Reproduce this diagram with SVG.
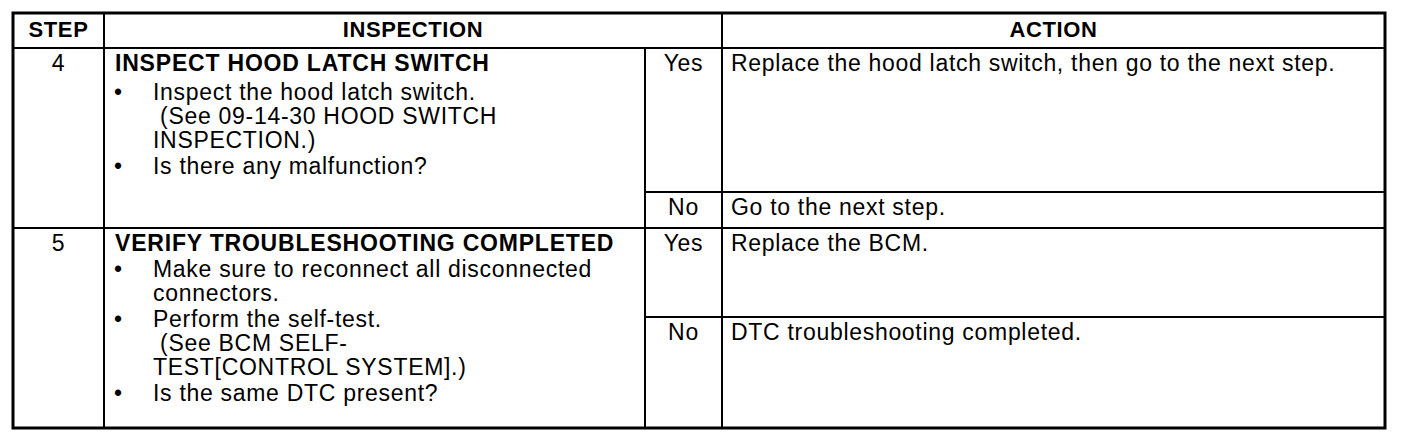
<svg xmlns="http://www.w3.org/2000/svg" width="1408" height="444" viewBox="0 0 1408 444">
<style>
text{font-family:"Liberation Sans",Arial,sans-serif;font-size:23px;letter-spacing:0.7px;fill:#000}
.h{font-weight:bold;font-size:22px;letter-spacing:0.6px;text-anchor:middle}
.b{font-weight:bold;letter-spacing:0.8px}
.c{text-anchor:middle}
.ln{stroke:#000;stroke-width:2;fill:none}
.out{stroke:#000;stroke-width:3;fill:none}
</style>
<rect width="1408" height="444" fill="#fff"/>
<g id="connectors">
<rect class="out" x="13" y="13" width="1372" height="415"/>
<line class="ln" x1="13" y1="48" x2="1385" y2="48"/>
<line class="ln" x1="13" y1="228" x2="1385" y2="228"/>
<line class="ln" x1="645" y1="192" x2="1385" y2="192"/>
<line class="ln" x1="645" y1="317" x2="1385" y2="317"/>
<line class="ln" x1="104" y1="13" x2="104" y2="428"/>
<line class="ln" x1="645" y1="48" x2="645" y2="428"/>
<line class="ln" x1="722" y1="13" x2="722" y2="428"/>
</g>
<g id="header">
<text class="h" x="58.5" y="37">STEP</text>
<text class="h" x="413" y="37">INSPECTION</text>
<text class="h" x="1053.5" y="37">ACTION</text>
</g>
<g id="step4">
<text class="c" x="58.5" y="71">4</text>
<text class="b" x="115" y="71">INSPECT HOOD LATCH SWITCH</text>
<text x="114" y="100">•</text>
<text x="153" y="100">Inspect the hood latch switch.</text>
<text x="153" y="124" xml:space="preserve"> (See 09-14-30 HOOD SWITCH</text>
<text x="153" y="148">INSPECTION.)</text>
<text x="114" y="174">•</text>
<text x="153" y="174">Is there any malfunction?</text>
<text class="c" x="683.5" y="71">Yes</text>
<text x="731" y="71">Replace the hood latch switch, then go to the next step.</text>
<text class="c" x="683.5" y="215">No</text>
<text x="731" y="215">Go to the next step.</text>
</g>
<g id="step5">
<text class="c" x="58.5" y="251">5</text>
<text class="b" x="115" y="251">VERIFY TROUBLESHOOTING COMPLETED</text>
<text x="114" y="277">•</text>
<text x="153" y="277">Make sure to reconnect all disconnected</text>
<text x="153" y="301">connectors.</text>
<text x="114" y="327">•</text>
<text x="153" y="327">Perform the self-test.</text>
<text x="153" y="351" xml:space="preserve"> (See BCM SELF-</text>
<text x="153" y="375">TEST[CONTROL SYSTEM].)</text>
<text x="114" y="401">•</text>
<text x="153" y="401">Is the same DTC present?</text>
<text class="c" x="683.5" y="251">Yes</text>
<text x="731" y="251">Replace the BCM.</text>
<text class="c" x="683.5" y="340">No</text>
<text x="731" y="340">DTC troubleshooting completed.</text>
</g>
</svg>
